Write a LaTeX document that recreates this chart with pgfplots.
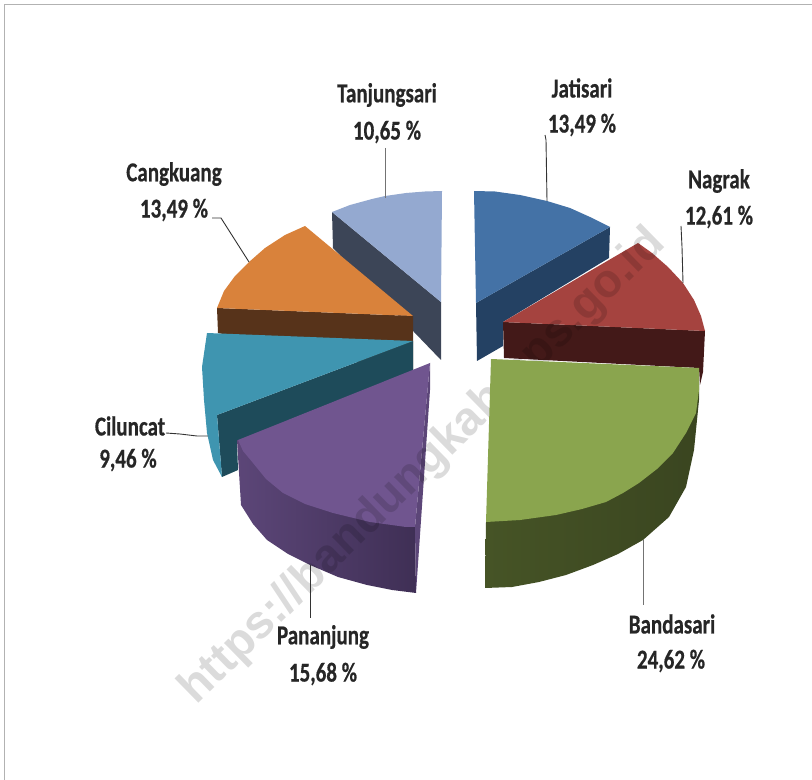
\documentclass[border=0pt]{standalone}
\usepackage{pgfplots}
\usepackage{fontspec}
\setmainfont{Carlito}[BoldFeatures={FakeBold=0.6}]
\newfontfamily\wm{Liberation Sans}
\pgfplotsset{compat=1.18}
\definecolor{tTop}{HTML}{94A9D0}\definecolor{tSide}{HTML}{3C4557}
\definecolor{jTop}{HTML}{4472A6}\definecolor{jSide}{HTML}{244163}
\definecolor{nTop}{HTML}{A5433F}\definecolor{nSide}{HTML}{431918}
\definecolor{bTop}{HTML}{8AA54E}\definecolor{bSideA}{HTML}{465426}\definecolor{bSideB}{HTML}{3A4520}
\definecolor{pTop}{HTML}{70558F}\definecolor{pSideA}{HTML}{5C4678}\definecolor{pSideB}{HTML}{3F2F55}
\definecolor{cTop}{HTML}{3F95B0}\definecolor{cSide}{HTML}{1E4B5A}
\definecolor{oTop}{HTML}{D9823B}\definecolor{oSide}{HTML}{57331A}
\newcommand{\lbl}[3]{\node[font=\fontsize{21bp}{24bp}\selectfont\bfseries,text=black!85,inner sep=0pt,anchor=center] at (axis cs:#1,#2) {\scalebox{1}[1.3]{#3}};}
\begin{document}
\begin{tikzpicture}
\begin{axis}[scale only axis,width=812bp,height=780bp,xmin=0,xmax=812,ymin=0,ymax=780,y dir=reverse,hide axis,clip=true,no markers,every axis plot/.append style={forget plot,draw=none,line join=round}]
% full extent of the picture
\addplot[draw=none,fill=none] coordinates {(0,0)(812,780)};
% frame
\addplot[draw=black!30!white,line width=1.6bp,fill=none] coordinates {(4.5,780)(4.5,4.5)(812,4.5)};
% Tanjungsari
\addplot[fill=tSide] coordinates {(332,212)(441,302)(441,360)(333,248)};
\addplot[fill=tTop] coordinates {(332,212)(350,205)(372,199)(385,196)(406,193)(425,191.5)(442,191)(441,302)};
% Jatisari
\addplot[fill=jSide] coordinates {(610,227)(609,258)(503,322)(503,346)(477,361)(476,303)};
\addplot[fill=jTop] coordinates {(474,191)(495,191.5)(520,195)(547,201)(570,208)(590,217)(610,227)(476,303)};
% Nagrak
\addplot[fill=nSide] coordinates {(503,322)(705,331)(703,372)(700,385)(699,368)(504,358)};
\addplot[fill=nTop] coordinates {(503,322)(638,243)(652,253)(668,267)(683,283)(694,300)(701,316)(705,331)};
% Cangkuang
\addplot[fill=oSide] coordinates {(217,308)(413,316)(413,373)(218,333)};
\addplot[fill=oTop] coordinates {(305,226)(413,316)(217,308)(224,291)(235,276)(249,262)(265,248)(285,235)};
% Ciluncat
\addplot[fill=cSide] coordinates {(217,415)(413,341)(413,372)(237,442)(238,470)(222,477)};
\addplot[fill=cTop] coordinates {(207,333)(413,341)(217,415)(222,477)(213,460)(207,433)(204,400)(202,367)};
% Pananjung
\addplot[shade,left color=pSideA,right color=pSideB] coordinates {(237,440)(241,505)(253,524)(267,540)(288,554)(310,565)(338,577)(367,585)(392,590)(416,593)(415,527)};
\addplot[fill=pSideA] coordinates {(430,363)(430,390)(416,593)(415,527)};
\addplot[fill=pTop] coordinates {(430,363)(415,527)(406,527)(370,522)(333,513)(305,504)(283,493)(266,479)(253,463)(243,451)(238,440)};
% watermark
\node[rotate=44.4,font=\wm\fontsize{47bp}{50bp}\selectfont\bfseries,text=black,opacity=0.14,inner sep=0pt] at (axis cs:423,467) {https://bandungkab.bps.go.id};
% Bandasari
\addplot[shade,left color=bSideA,right color=bSideB] coordinates {(699,380)(699,400)(694,450)(686,487)(669,517)(643,540)(618,554)(593,565)(566,575)(539,582)(512,587)(485,588)(486,522)};
\addplot[fill=bTop] coordinates {(491,359)(699,368)(699,390)(696,413)(686,433)(673,453)(657,469)(639,483)(623,493)(606,502)(582,509)(556,515)(520,520)(486,522)};
% leaders
\addplot[draw=black!55,line width=1bp,fill=none] coordinates {(385,148)(385,198)};
\addplot[draw=black!80,line width=.9bp,fill=none] coordinates {(212,218)(221,218)(249,262)};
\addplot[draw=black!80,line width=.9bp,fill=none] coordinates {(545,135)(546,140)(547,201)};
\addplot[draw=black!80,line width=.9bp,fill=none] coordinates {(681,226)(682,247)(683,283)};
\addplot[draw=black!80,line width=.9bp,fill=none] coordinates {(166,433)(180,434)(197,436)(208,436)};
\addplot[draw=black!80,line width=.9bp,fill=none] coordinates {(310,565)(310,618)};
\addplot[draw=black!55,line width=1bp,fill=none] coordinates {(643,540)(643,605)};
% labels
\lbl{387}{95}{Tanjungsari}\lbl{387}{132}{10,65 \%}
\lbl{582}{88}{Jatisari}\lbl{582}{125}{13,49 \%}
\lbl{719}{181}{Nagrak}\lbl{719}{217}{12,61 \%}
\lbl{174}{174}{Cangkuang}\lbl{174}{210}{13,49 \%}
\lbl{130}{426}{Ciluncat}\lbl{128}{460}{9,46 \%}
\lbl{323}{637}{Pananjung}\lbl{323}{674}{15,68 \%}
\lbl{672}{624}{Bandasari}\lbl{671}{661}{24,62 \%}
\end{axis}
\end{tikzpicture}
\end{document}
